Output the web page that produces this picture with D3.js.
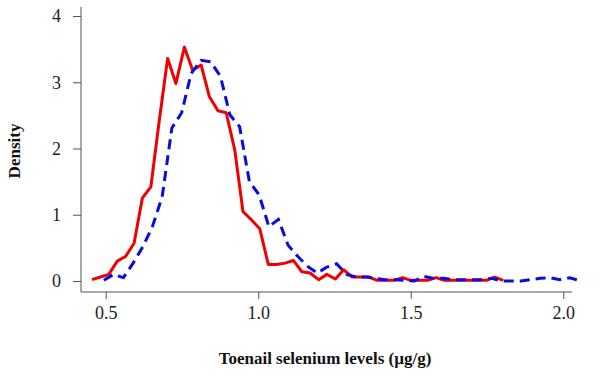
<!DOCTYPE html>
<html lang="en">
<head>
  <meta charset="UTF-8">
  <script src="https://d3js.org/d3.v7.min.js"></script>
  <title>Toenail selenium density</title>
  <style>
    body { margin: 0; background: white; }
    .axis path, .axis line { stroke: #555; }
    .title { font-family: "Liberation Serif", serif; font-weight: bold; font-size: 17px; fill: #111; }
  </style>
</head>
<body>
<div id="chart"></div>
<script>
  // red (solid) density polygon
  const redX = [0.455, 0.483, 0.510, 0.538, 0.565, 0.593, 0.620, 0.648, 0.675, 0.703,
    0.730, 0.758, 0.785, 0.813, 0.840, 0.868, 0.895, 0.923, 0.950, 0.978,
    1.005, 1.033, 1.060, 1.088, 1.115, 1.143, 1.170, 1.198, 1.225, 1.253,
    1.280, 1.308, 1.335, 1.363, 1.390, 1.418, 1.445, 1.473, 1.500, 1.528,
    1.555, 1.583, 1.610, 1.638, 1.665, 1.693, 1.720, 1.748, 1.775, 1.803];
  const redY = [0.02, 0.06, 0.10, 0.30, 0.37, 0.57, 1.25, 1.42, 2.40, 3.36,
    2.98, 3.53, 3.18, 3.26, 2.78, 2.57, 2.54, 1.98, 1.05, 0.92,
    0.79, 0.25, 0.25, 0.27, 0.31, 0.14, 0.12, 0.02, 0.10, 0.03,
    0.17, 0.06, 0.06, 0.06, 0.01, 0.01, 0.01, 0.05, 0.01, 0.01,
    0.01, 0.05, 0.01, 0.01, 0.01, 0.01, 0.01, 0.01, 0.06, 0.01];

  // blue (dashed) density polygon
  const blueX = [0.494, 0.526, 0.558, 0.590, 0.622, 0.653, 0.685, 0.717, 0.749, 0.780,
    0.812, 0.844, 0.876, 0.907, 0.939, 0.971, 1.003, 1.035, 1.066, 1.098,
    1.130, 1.162, 1.194, 1.225, 1.257, 1.289, 1.321, 1.353, 1.384, 1.416,
    1.448, 1.480, 1.512, 1.543, 1.575, 1.607, 1.639, 1.671, 1.702, 1.734,
    1.766, 1.798, 1.830, 1.861, 1.893, 1.925, 1.957, 1.989, 2.020, 2.052];
  const blueY = [0.01, 0.10, 0.05, 0.27, 0.52, 0.82, 1.27, 2.31, 2.54, 3.13,
    3.33, 3.31, 3.09, 2.51, 2.33, 1.50, 1.30, 0.82, 0.93, 0.54,
    0.37, 0.22, 0.12, 0.21, 0.26, 0.10, 0.06, 0.06, 0.04, 0.02,
    0.02, 0.01, 0.00, 0.07, 0.04, 0.04, 0.02, 0.02, 0.02, 0.02,
    0.04, 0.00, 0.00, 0.00, 0.02, 0.04, 0.05, 0.02, 0.05, 0.01];

  const xTicks = [0.5, 1.0, 1.5, 2.0];
  const yTicks = [0, 1, 2, 3, 4];

  const W = 600, H = 376;
  const plotLeft = 81, plotRight = 572, plotTop = 7, plotBottom = 292;

  const svg = d3.select("#chart").append("svg")
    .attr("width", W)
    .attr("height", H);

  const x = d3.scaleLinear()
    .domain([0.5, 2.0])
    .range([105.7, 563.3]);
  const y = d3.scaleLinear()
    .domain([0, 4])
    .range([281, 16]);

  function serifTicks(g) {
    g.selectAll(".tick text")
      .style("font-family", "'Liberation Serif', serif")
      .style("font-size", "18px")
      .style("fill", "#222");
  }

  // axes, L shaped like R's bty="l"
  svg.append("g")
    .attr("class", "axis")
    .attr("transform", `translate(0,${plotBottom})`)
    .call(d3.axisBottom(x).tickValues(xTicks).tickFormat(d3.format(".1f")).tickSize(7).tickSizeOuter(0).tickPadding(7))
    .call(serifTicks)
    .call(g => g.select(".domain").attr("d", `M${plotLeft},0H${plotRight}`));

  svg.append("g")
    .attr("class", "axis")
    .attr("transform", `translate(${plotLeft},0)`)
    .call(d3.axisLeft(y).tickValues(yTicks).tickFormat(d3.format("d")).tickSize(8).tickSizeOuter(0).tickPadding(12))
    .call(serifTicks)
    .call(g => g.select(".domain").attr("d", `M0,${plotTop}V${plotBottom}`));

  const line = d3.line()
    .x(d => x(d[0]))
    .y(d => y(d[1]));

  svg.append("path")
    .datum(redX.map((v, i) => [v, redY[i]]))
    .attr("fill", "none")
    .attr("stroke", "#f00000")
    .attr("stroke-width", 3)
    .attr("stroke-linejoin", "round")
    .attr("d", line);

  svg.append("path")
    .datum(blueX.map((v, i) => [v, blueY[i]]))
    .attr("fill", "none")
    .attr("stroke", "#0a0ae6")
    .attr("stroke-width", 3)
    .attr("stroke-dasharray", "10,6")
    .attr("d", line);

  svg.append("text")
    .attr("class", "title")
    .attr("x", 325)
    .attr("y", 364)
    .attr("text-anchor", "middle")
    .text("Toenail selenium levels (\u00b5g/g)");

  svg.append("text")
    .attr("class", "title")
    .attr("transform", "translate(20,151) rotate(-90)")
    .attr("text-anchor", "middle")
    .text("Density");
</script>
</body>
</html>
